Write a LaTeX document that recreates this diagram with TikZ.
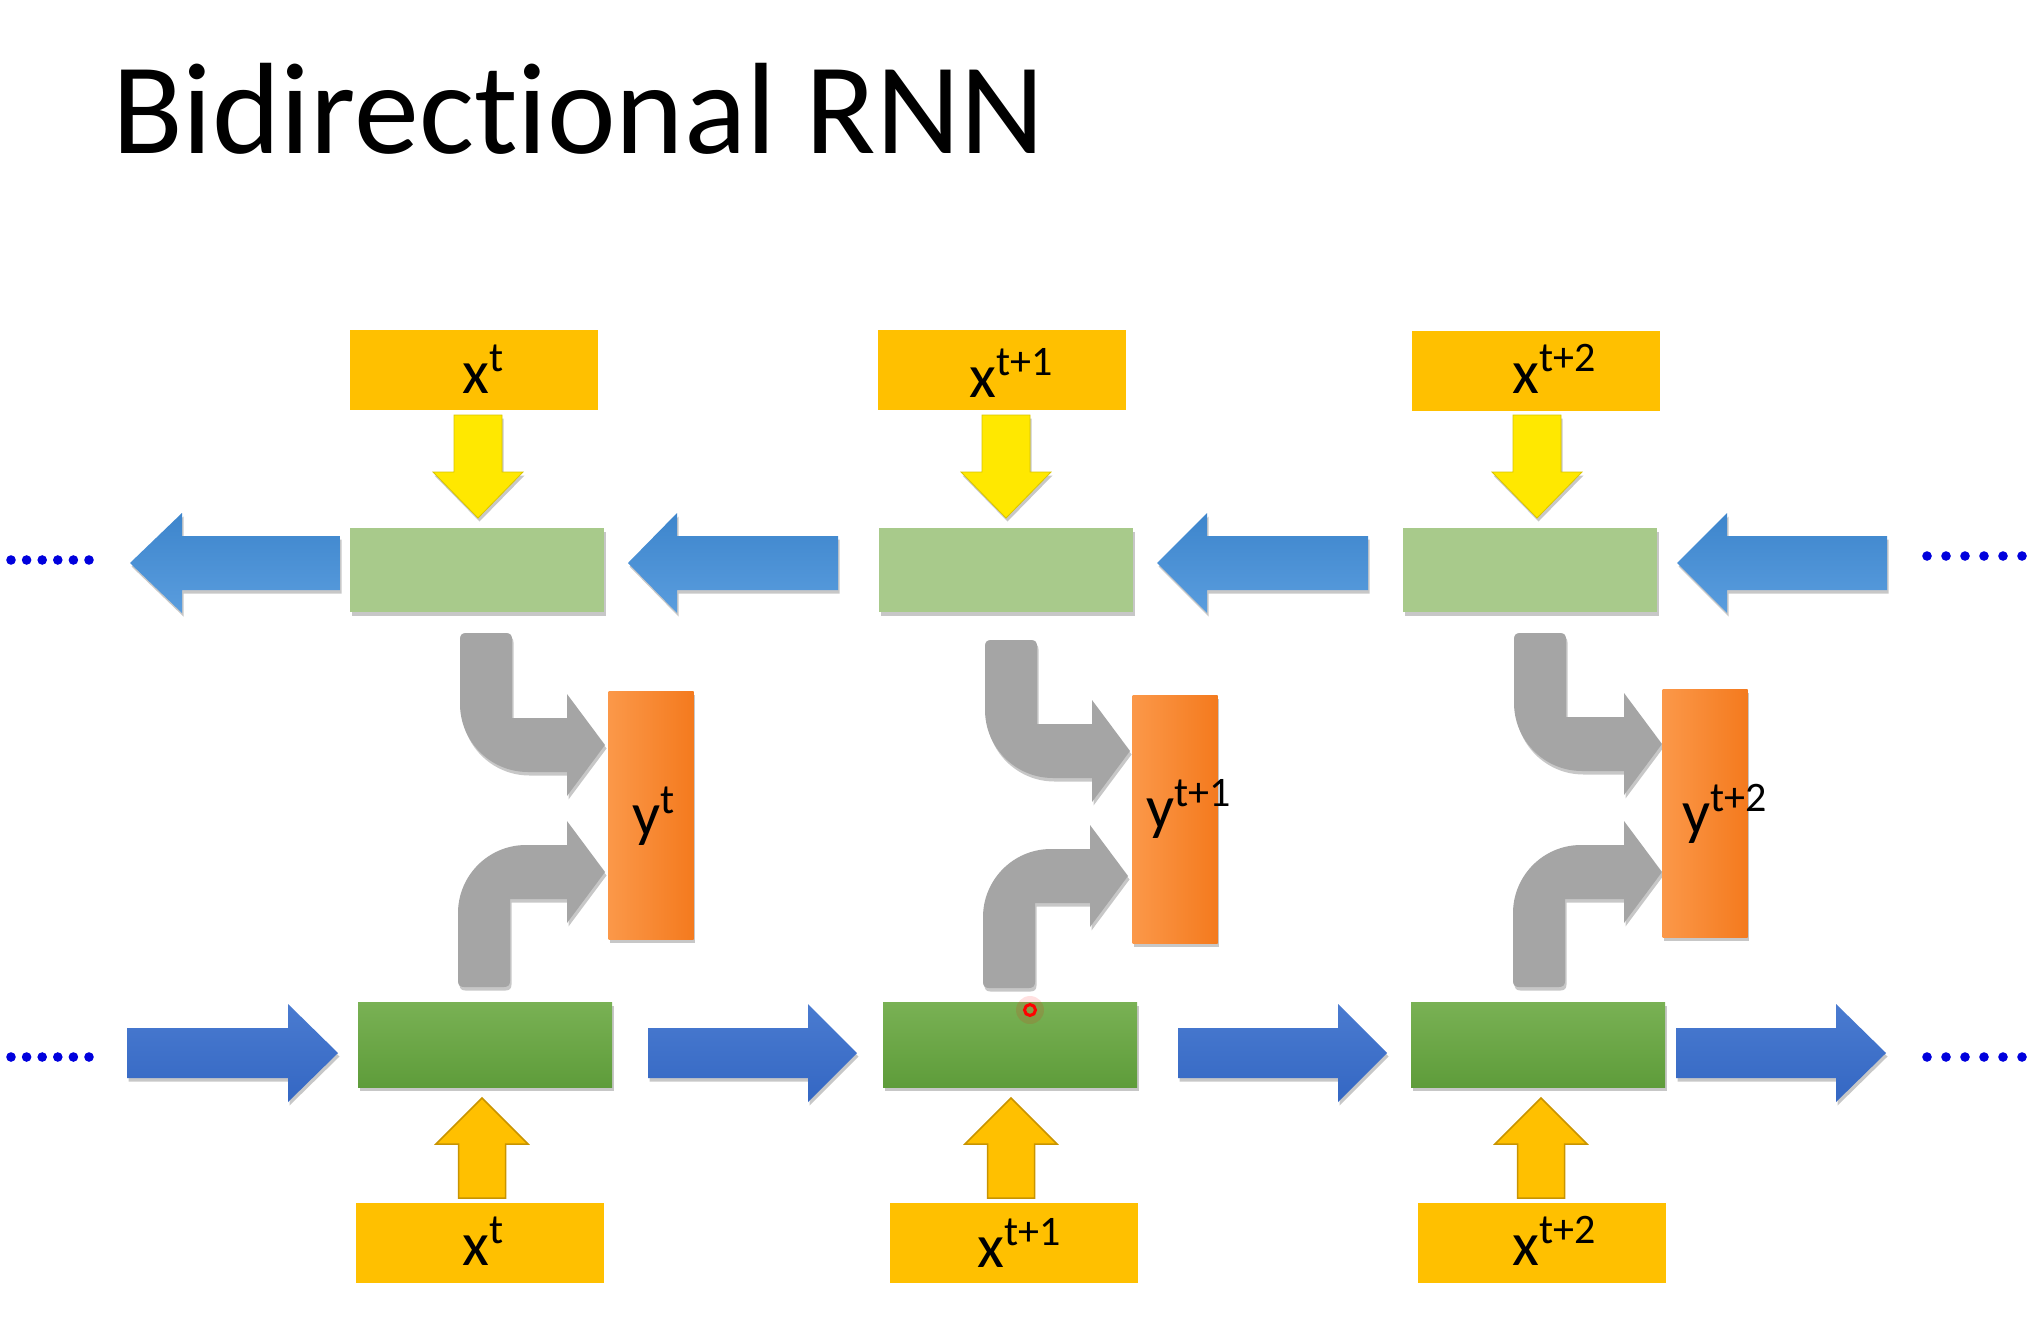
\documentclass[tikz,border=0pt]{standalone}
\usepackage{fontspec}
\setmainfont[Ligatures=NoCommon]{Carlito}
\usetikzlibrary{shadows}
\definecolor{xorange}{HTML}{FFC000}
\definecolor{xorangeline}{HTML}{C99400}
\definecolor{lgreen}{HTML}{A8CA8B}
\definecolor{dgreenA}{HTML}{79B154}
\definecolor{dgreenB}{HTML}{5E9C3A}
\definecolor{yorangeA}{HTML}{FB9849}
\definecolor{yorangeB}{HTML}{F47A1E}
\definecolor{tblueA}{HTML}{3D85CC}
\definecolor{tblueB}{HTML}{5A9DDE}
\definecolor{bblueA}{HTML}{4A7BD0}
\definecolor{bblueB}{HTML}{3467C3}
\definecolor{yellowarr}{HTML}{FFE800}
\definecolor{grayarr}{HTML}{A5A5A5}
\definecolor{dotblue}{HTML}{0000DD}
\newcommand\sups[1]{\raisebox{22pt}{\fontsize{42}{42}\selectfont #1}}
% left-pointing block arrow: tip x, head base x, tail x, centre y
\newcommand\blueLeft[4]{\path[toparrow] (#1,#4) -- (#2,#4-50) -- (#2,#4-27) -- (#3,#4-27) -- (#3,#4+27) -- (#2,#4+27) -- (#2,#4+50) -- cycle;}
% right-pointing block arrow: tail x, head base x, tip x, centre y
\newcommand\blueRight[4]{\path[botarrow] (#1,#4-25) -- (#2,#4-25) -- (#2,#4-49) -- (#3,#4) -- (#2,#4+49) -- (#2,#4+25) -- (#1,#4+25) -- cycle;}
% yellow down arrow: centre x
\newcommand\yellowDown[1]{\path[ydarrow] (#1-24,415) -- (#1+24,415) -- (#1+24,472) -- (#1+45,472) -- (#1,518) -- (#1-45,472) -- (#1-24,472) -- cycle;}
% orange up arrow: centre x
\newcommand\orangeUp[1]{\path[ouarrow] (#1-23.5,1198) -- (#1-23.5,1144) -- (#1-46,1144) -- (#1,1098) -- (#1+46,1144) -- (#1+23.5,1144) -- (#1+23.5,1198) -- cycle;}
% gray bent arrow, down then right: left x, top y, tip x, centre y
\newcommand\grayTop[4]{\path[gbent] (#1,#2+6) .. controls (#1,#2+2) and (#1+2,#2) .. (#1+6,#2) -- (#1+46,#2) .. controls (#1+50,#2) and (#1+52,#2+2) .. (#1+52,#2+6) -- (#1+52,#4-27) -- (#3-38,#4-27) -- (#3-38,#4-51) -- (#3,#4) -- (#3-38,#4+51) -- (#3-38,#4+27) -- (#1+68,#4+27) .. controls (#1+30,#4+27) and (#1,#4-4) .. (#1,#4-41) -- cycle;}
% gray bent arrow, up then right: left x, bottom y, tip x, centre y
\newcommand\grayBot[4]{\path[gbent] (#1,#2-6) -- (#1,#4+41) .. controls (#1,#4+4) and (#1+30,#4-27) .. (#1+68,#4-27) -- (#3-38,#4-27) -- (#3-38,#4-51) -- (#3,#4) -- (#3-38,#4+51) -- (#3-38,#4+27) -- (#1+52,#4+27) -- (#1+52,#2-6) .. controls (#1+52,#2-2) and (#1+50,#2) .. (#1+46,#2) -- (#1+6,#2) .. controls (#1+2,#2) and (#1,#2-2) .. cycle;}
\begin{document}
\begin{tikzpicture}[x=1pt,y=-1pt,
  softshadow/.style={drop shadow={shadow xshift=1.5pt,shadow yshift=-3.5pt,opacity=0.22,fill=black}},
  xbox/.style={fill=xorange,minimum width=248,minimum height=80,inner sep=0},
  hlight/.style={fill=lgreen,minimum width=254,minimum height=84,inner sep=0,softshadow},
  hdark/.style={top color=dgreenA,bottom color=dgreenB,minimum width=254,minimum height=85,inner sep=0,softshadow},
  ybox/.style={left color=yorangeA,right color=yorangeB,minimum width=85,minimum height=248,inner sep=0,softshadow},
  lbl/.style={font=\fontsize{62}{70}\selectfont,inner sep=0,anchor=base west,text=black},
  toparrow/.style={top color=tblueA,bottom color=tblueB,softshadow},
  botarrow/.style={top color=bblueA,bottom color=bblueB,softshadow},
  ydarrow/.style={fill=yellowarr,draw=yellowarr!85!black,line width=0.8pt,softshadow},
  ouarrow/.style={fill=xorange,draw=xorangeline,line width=1.5pt},
  gbent/.style={fill=grayarr,softshadow},
  dot/.style={fill=dotblue}]
\useasboundingbox (0,0) rectangle (2037,1322);
\fill[white] (0,0) rectangle (2037,1322);

% title
\node[anchor=base west,inner sep=0,font=\fontsize{130}{150}\selectfont] (title) at (112,153) {Bidirectional RNN};

% top input boxes
\node[xbox] (xa1) at (474,370) {};
\node[xbox] (xa2) at (1002,370) {};
\node[xbox] (xa3) at (1536,371) {};
\node[lbl] (lxa1) at (462,393) {x\sups{t}};
\node[lbl] (lxa2) at (969,397) {x\sups{t+1}};
\node[lbl] (lxa3) at (1512,393) {x\sups{t+2}};

% yellow down arrows
\yellowDown{478}
\yellowDown{1006}
\yellowDown{1537}

% backward hidden states
\node[hlight] (hb1) at (477,570) {};
\node[hlight] (hb2) at (1006,570) {};
\node[hlight] (hb3) at (1530,570) {};

% backward arrows (pointing left)
\blueLeft{130}{182}{340}{563}
\blueLeft{628}{677}{838}{563}
\blueLeft{1157}{1207}{1368}{563}
\blueLeft{1677}{1727}{1887}{563}

% gray bent arrows
\grayTop{460}{633}{605}{745}
\grayTop{985}{640}{1130}{751}
\grayTop{1514}{633}{1662}{744}
\grayBot{458}{987}{605}{872}
\grayBot{983}{988}{1128}{876}
\grayBot{1513}{987}{1662}{872}

% outputs
\node[ybox] (y1) at (651,815) {};
\node[ybox] (y2) at (1175,819) {};
\node[ybox] (y3) at (1705,813) {};
\node[lbl] (ly1) at (632,835) {y\sups{t}};
\node[lbl] (ly2) at (1146,828) {y\sups{t+1}};
\node[lbl] (ly3) at (1682,833) {y\sups{t+2}};

% forward hidden states
\node[hdark] (hf1) at (485,1045) {};
\node[hdark] (hf2) at (1010,1045) {};
\node[hdark] (hf3) at (1538,1045) {};

% forward arrows (pointing right)
\blueRight{127}{288}{338}{1053}
\blueRight{648}{808}{857}{1053}
\blueRight{1178}{1338}{1387}{1053}
\blueRight{1676}{1836}{1886}{1053}

% orange up arrows
\orangeUp{482}
\orangeUp{1011}
\orangeUp{1541}

% bottom input boxes
\node[xbox] (xb1) at (480,1243) {};
\node[xbox] (xb2) at (1014,1243) {};
\node[xbox] (xb3) at (1542,1243) {};
\node[lbl] (lxb1) at (462,1265) {x\sups{t}};
\node[lbl] (lxb2) at (977,1267) {x\sups{t+1}};
\node[lbl] (lxb3) at (1512,1265) {x\sups{t+2}};

% continuation dots
\foreach \x in {11,26.6,42.2,57.8,73.4,89} {
  \fill[dot] (\x,560) circle (4.8);
  \fill[dot] (\x,1057) circle (4.8);
}
\foreach \x in {1927,1946,1965,1984,2003,2022} {
  \fill[dot] (\x,556) circle (4.8);
  \fill[dot] (\x,1057) circle (4.8);
}

% pointer mark
\fill[red,opacity=0.12] (1030,1010) circle (14);
\draw[red,line width=3pt] (1030,1010) circle (5.5);
\end{tikzpicture}
\end{document}
